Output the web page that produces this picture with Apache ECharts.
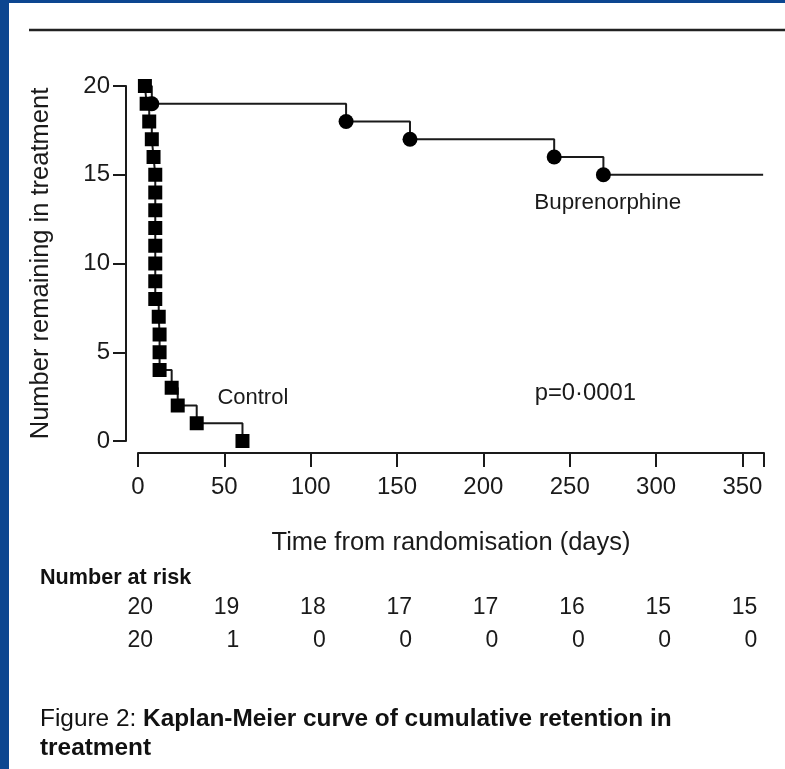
<!DOCTYPE html>
<html><head><meta charset="utf-8">
<script src="https://cdn.jsdelivr.net/npm/echarts@6/dist/echarts.min.js"></script>
<style>html,body{margin:0;padding:0;background:#fff}#c{width:785px;height:769px}</style>
</head><body><div id="c"></div>
<script>
// Control group: time of each drop (days) and number remaining
const controlDays   = [4, 5, 6.5, 8, 9, 10, 10, 10, 10, 10, 10, 10, 10, 12, 12.5, 12.5, 12.5, 19.5, 23, 34, 60.5];
const controlCounts = [20, 19, 18, 17, 16, 15, 14, 13, 12, 11, 10, 9, 8, 7, 6, 5, 4, 3, 2, 1, 0];
// Buprenorphine group
const bupDays   = [0, 8, 120.5, 157.5, 241, 269.5, 362];
const bupCounts = [20, 19, 18, 17, 16, 15, 15];
// Number at risk table
const riskTimes   = [0, 50, 100, 150, 200, 250, 300, 350];
const riskBup     = [20, 19, 18, 17, 17, 16, 15, 15];
const riskControl = [20, 1, 0, 0, 0, 0, 0, 0];
const yTicks = [0, 5, 10, 15, 20];

const FONT = '"Liberation Sans", Arial, sans-serif';
const INK = '#1a1a1a';

const chart = echarts.init(document.getElementById('c'), null, {renderer: 'canvas'});

const controlData = controlDays.map((d, i) => [d, controlCounts[i]]);
const bupData = bupDays.map((d, i) => {
  const p = {value: [d, bupCounts[i]]};
  if (i === 0 || i === bupDays.length - 1) p.symbol = 'none';
  return p;
});

chart.setOption({
  backgroundColor: '#ffffff',
  animation: false,
  grid: {left: 138, right: 21, top: 86, bottom: 328, containLabel: false},
  xAxis: {
    type: 'value', min: 0, max: 362.5, interval: 50, offset: 12,
    name: 'Time from randomisation (days)', nameLocation: 'middle', nameGap: 77,
    nameTextStyle: {fontFamily: FONT, fontSize: 25.5, color: INK},
    axisLine: {show: true, onZero: false, lineStyle: {color: INK, width: 2}},
    axisTick: {show: true, length: 14, lineStyle: {color: INK, width: 2}},
    axisLabel: {fontFamily: FONT, fontSize: 24, color: INK, margin: 22,
      formatter: v => (v % 50 === 0 ? String(v) : '')},
    splitLine: {show: false}
  },
  yAxis: {
    type: 'value', min: 0, max: 20, interval: 5, offset: 12,
    name: 'Number remaining in treatment', nameLocation: 'middle', nameGap: 72, nameRotate: 90,
    nameTextStyle: {fontFamily: FONT, fontSize: 25.5, color: INK},
    axisLine: {show: true, onZero: false, lineStyle: {color: INK, width: 2}},
    axisTick: {show: true, length: 13, lineStyle: {color: INK, width: 2}},
    axisLabel: {fontFamily: FONT, fontSize: 24, color: INK, margin: 16},
    splitLine: {show: false}
  },
  series: [
    {
      name: 'Buprenorphine', type: 'line', step: 'end', data: bupData,
      symbol: 'circle', symbolSize: 15,
      lineStyle: {color: INK, width: 2}, itemStyle: {color: '#000'}, z: 2
    },
    {
      name: 'Control', type: 'line', step: 'end', data: controlData,
      symbol: 'rect', symbolSize: 14,
      lineStyle: {color: INK, width: 2}, itemStyle: {color: '#000'}, z: 3
    }
  ]
});

function px(x, y) { return chart.convertToPixel({gridIndex: 0}, [x, y]); }

const g = [];
// blue slide border
g.push({type: 'rect', shape: {x: 0, y: 0, width: 9, height: 769}, style: {fill: '#0c4690'}, silent: true});
g.push({type: 'rect', shape: {x: 0, y: 0, width: 785, height: 3}, style: {fill: '#0c4690'}, silent: true});
// top rule
g.push({type: 'line', shape: {x1: 29, y1: 30, x2: 785, y2: 30}, style: {stroke: '#222', lineWidth: 2.5}, silent: true});

// annotations placed in data coordinates
function note(text, dx, dy, size) {
  const p = px(dx, dy);
  g.push({type: 'text', x: p[0], y: p[1], silent: true,
    style: {text, fontFamily: FONT, fontSize: size, fill: INK, align: 'center', verticalAlign: 'middle'}});
}
note('Buprenorphine', 272, 13.4, 22.4);
note('Control', 66.5, 2.4, 22);
note('p=0·0001', 259, 2.68, 23.8);

// Number at risk
g.push({type: 'text', x: 40, y: 578, silent: true,
  style: {text: 'Number at risk', fontFamily: FONT, fontSize: 21.6, fontWeight: 'bold', fill: '#111', verticalAlign: 'middle'}});
riskTimes.forEach((t, i) => {
  const x = px(t, 0)[0] + 15;
  g.push({type: 'text', x, y: 608, silent: true,
    style: {text: String(riskBup[i]), fontFamily: FONT, fontSize: 23, fill: INK, align: 'right', verticalAlign: 'middle'}});
  g.push({type: 'text', x, y: 641, silent: true,
    style: {text: String(riskControl[i]), fontFamily: FONT, fontSize: 23, fill: INK, align: 'right', verticalAlign: 'middle'}});
});

// Caption
g.push({type: 'text', x: 40, y: 719, silent: true,
  style: {text: '{r|Figure 2: }{b|Kaplan-Meier curve of cumulative retention in}', verticalAlign: 'middle',
    rich: {r: {fontFamily: FONT, fontSize: 24.4, fill: '#111'}, b: {fontFamily: FONT, fontSize: 24.4, fontWeight: 'bold', fill: '#111'}}}});
g.push({type: 'text', x: 40, y: 748, silent: true,
  style: {text: 'treatment', fontFamily: FONT, fontSize: 24.4, fontWeight: 'bold', fill: '#111', verticalAlign: 'middle'}});

chart.setOption({graphic: g});
</script>
</body></html>
